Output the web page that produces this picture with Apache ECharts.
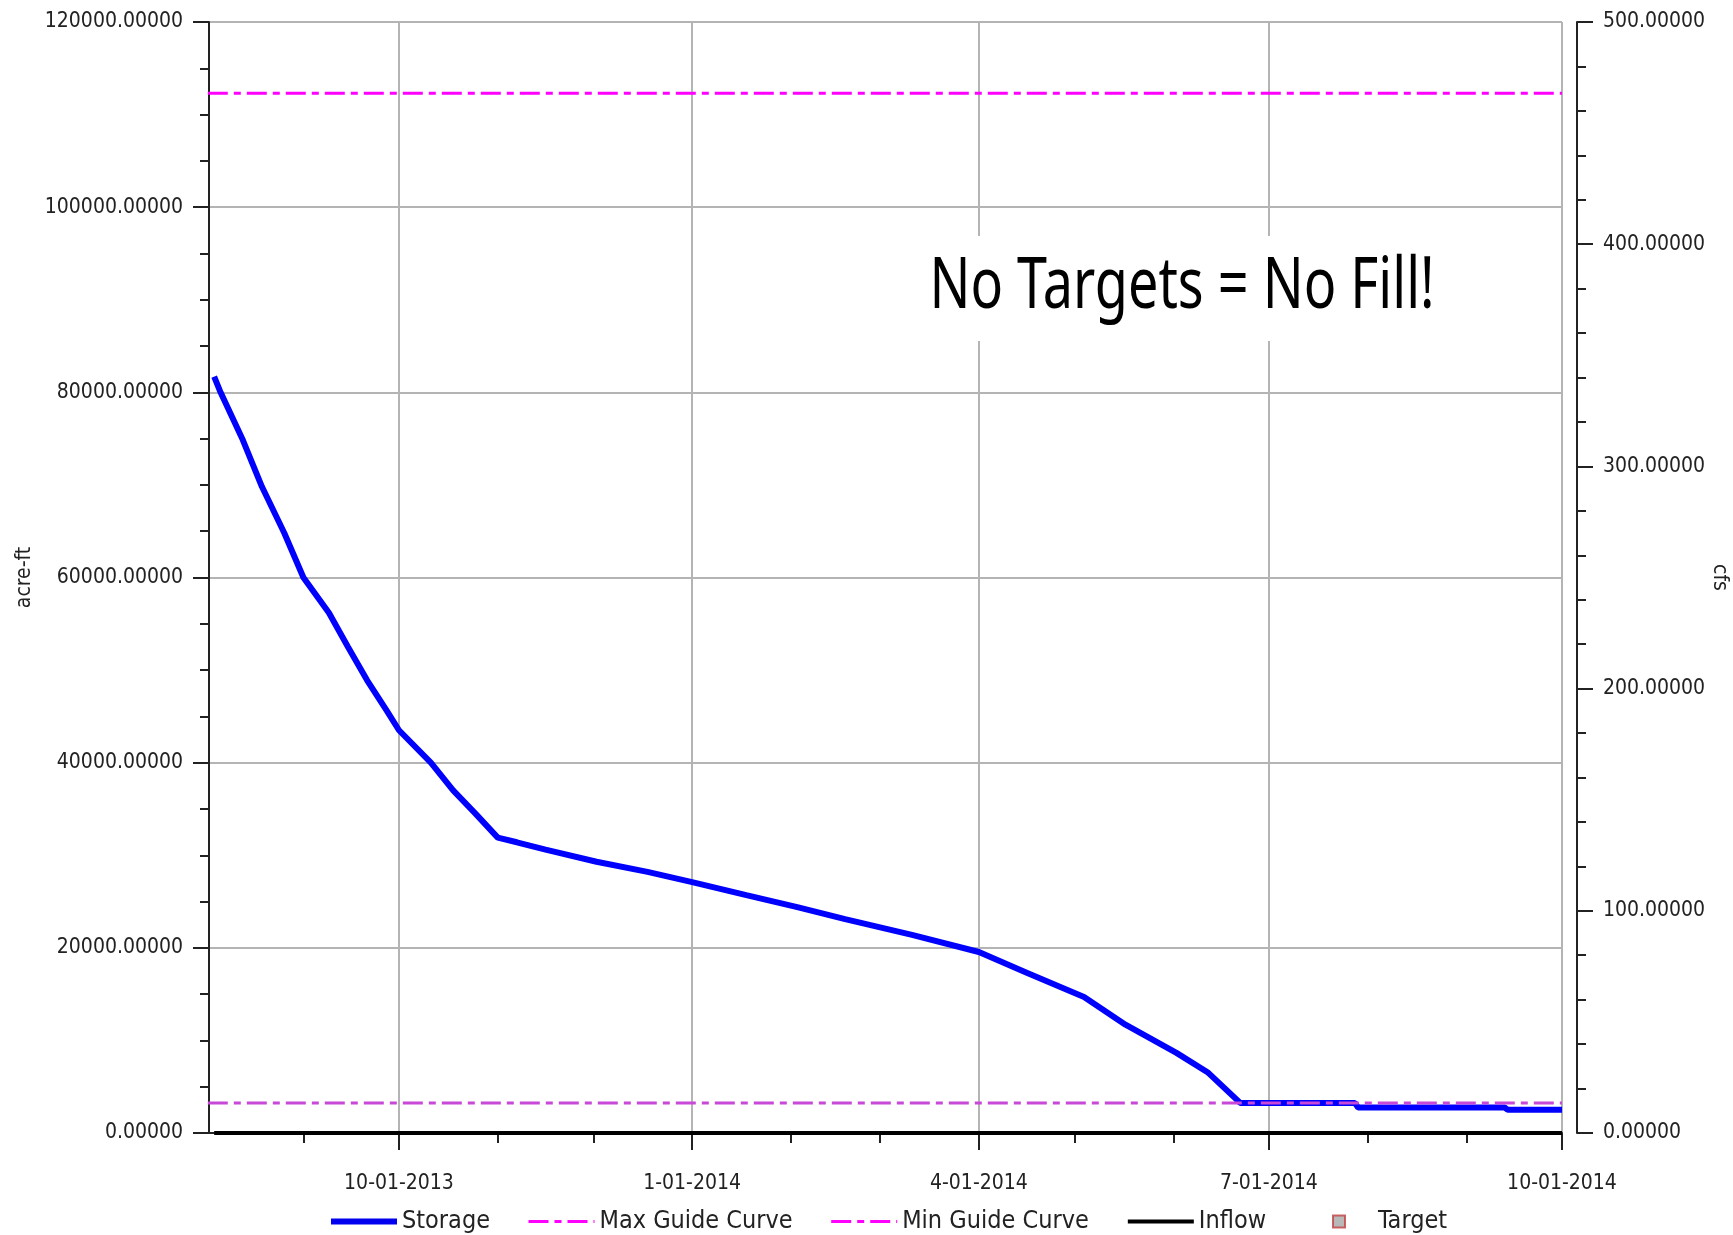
<!DOCTYPE html>
<html>
<head>
<meta charset="utf-8">
<script src="https://cdn.jsdelivr.net/npm/echarts@6.0.0/dist/echarts.min.js"></script>
<style>
  html, body { margin: 0; padding: 0; background: #fff; }
  #chart { width: 1733px; height: 1235px; }
</style>
</head>
<body>
<div id="chart"></div>
<script>
// storage (acre-ft)
var storageDates = ['2013-08-04','2013-08-06','2013-08-13','2013-08-19','2013-08-26','2013-09-01',
  '2013-09-09','2013-09-15','2013-09-21','2013-09-27','2013-10-01','2013-10-11','2013-10-18',
  '2013-10-25','2013-11-01','2013-11-07','2013-11-16','2013-12-02','2013-12-18','2014-01-01',
  '2014-01-18','2014-02-03','2014-02-18','2014-03-11','2014-04-01','2014-04-16','2014-05-04',
  '2014-05-17','2014-06-02','2014-06-12','2014-06-22','2014-07-28','2014-07-29','2014-09-13',
  '2014-09-14','2014-10-01'];
var storageValues = [81700, 80000, 74850, 69800, 64800, 60000,
  56200, 52500, 48900, 45700, 43500, 40000, 37000,
  34500, 31900, 31400, 30600, 29300, 28200, 27100,
  25700, 24400, 23100, 21400, 19550, 17300, 14700,
  11700, 8650, 6500, 3250, 3250, 2750, 2750,
  2500, 2500];

var guideDates = ['2013-08-02', '2014-10-01'];
var maxGuide = [112300, 112300];
var minGuide = [3250, 3250];

var inflowDates = ['2013-08-04', '2014-10-01'];
var inflowValues = [0, 0]; // cfs

var majorTicks = ['2013-10-01', '2014-01-01', '2014-04-01', '2014-07-01', '2014-10-01'];
var minorTicks = ['2013-09-01', '2013-11-01', '2013-12-01', '2014-02-01', '2014-03-01',
  '2014-05-01', '2014-06-01', '2014-08-01', '2014-09-01'];

var leftTicks = [0, 20000, 40000, 60000, 80000, 100000, 120000];
var rightTicks = [0, 100, 200, 300, 400, 500];

function ts(s) {
  var p = s.split('-');
  return new Date(+p[0], +p[1] - 1, +p[2]).getTime();
}
function pairs(dates, vals) {
  return dates.map(function (d, i) { return [ts(d), vals[i]]; });
}

var FONT = "'DejaVu Sans Condensed', 'DejaVu Sans', sans-serif";
var xMin = new Date(2013, 7, 2, 9).getTime();
var xMax = ts('2014-10-01');
var noSymbol = { opacity: 0 };

var chart = echarts.init(document.getElementById('chart'));
chart.setOption({
  animation: false,
  backgroundColor: '#fff',
  grid: { left: 209, right: 171, top: 22, bottom: 102, containLabel: false, outerBoundsMode: 'none' },
  legend: [{
    left: 323, top: 1204,
    itemWidth: 66, itemHeight: 12, itemGap: 37,
    textStyle: { fontFamily: FONT, fontSize: 25, color: '#222' },
    data: [
      { name: 'Storage', itemStyle: noSymbol, lineStyle: { width: 6, color: '#0000ee' } },
      { name: 'Max Guide Curve', itemStyle: noSymbol, lineStyle: { width: 3 } },
      { name: 'Min Guide Curve', itemStyle: noSymbol, lineStyle: { width: 3, color: '#ff00ff' } },
      { name: 'Inflow', itemStyle: noSymbol, lineStyle: { width: 4 } }
    ]
  }, {
    left: 1327, top: 1204,
    itemWidth: 12, itemHeight: 12,
    icon: 'rect',
    textStyle: { fontFamily: FONT, fontSize: 25, color: '#222', padding: [0, 0, 0, 28] },
    data: ['Target']
  }],
  xAxis: [{
    type: 'value', min: xMin, max: xMax, offset: 16,
    axisLine: { show: true, lineStyle: { color: '#222', width: 2 } },
    axisTick: { show: true, length: 17, lineStyle: { color: '#222', width: 2 },
      customValues: majorTicks.map(ts) },
    axisLabel: {
      customValues: majorTicks.map(ts),
      fontFamily: FONT, fontSize: 21, color: '#222', margin: 24,
      showMaxLabel: true,
      formatter: function (v) {
        var d = new Date(v);
        return (d.getMonth() + 1) + '-01-' + d.getFullYear();
      }
    },
    splitLine: { show: true, lineStyle: { color: '#b4b4b4', width: 2 } }
  }, {
    type: 'value', min: xMin, max: xMax, offset: 16, position: 'bottom',
    axisLine: { show: false },
    axisTick: { show: true, length: 10, lineStyle: { color: '#222', width: 2 },
      customValues: minorTicks.map(ts) },
    axisLabel: { show: false },
    splitLine: { show: false }
  }],
  yAxis: [{
    type: 'value', min: leftTicks[0], max: leftTicks[leftTicks.length - 1], interval: 20000,
    name: 'acre-ft', nameLocation: 'middle', nameGap: 174, nameRotate: 90, nameMoveOverlap: false,
    nameTextStyle: { fontFamily: FONT, fontSize: 21, color: '#222' },
    axisLine: { show: true, lineStyle: { color: '#222', width: 2 } },
    axisTick: { show: true, length: 16, lineStyle: { color: '#222', width: 2 } },
    minorTick: { show: true, splitNumber: 4, length: 9, lineStyle: { color: '#222', width: 2 } },
    axisLabel: { fontFamily: FONT, fontSize: 21, color: '#222', margin: 26,
      formatter: function (v) { return v.toFixed(5); } },
    splitLine: { show: true, lineStyle: { color: '#b4b4b4', width: 2 } }
  }, {
    type: 'value', position: 'right', offset: 15,
    min: rightTicks[0], max: rightTicks[rightTicks.length - 1], interval: 100,
    name: 'cfs', nameLocation: 'middle', nameGap: 132, nameRotate: -90, nameMoveOverlap: false,
    nameTextStyle: { fontFamily: FONT, fontSize: 21, color: '#222' },
    axisLine: { show: true, lineStyle: { color: '#222', width: 2 } },
    axisTick: { show: true, length: 16, lineStyle: { color: '#222', width: 2 } },
    minorTick: { show: true, splitNumber: 5, length: 9, lineStyle: { color: '#222', width: 2 } },
    axisLabel: { fontFamily: FONT, fontSize: 21, color: '#222', margin: 26,
      formatter: function (v) { return v.toFixed(5); } },
    splitLine: { show: false }
  }],
  graphic: [{
    type: 'rect', z: 50,
    shape: { x: 905, y: 236, width: 555, height: 105 },
    style: { fill: '#fff' }
  }, {
    type: 'text', z: 51, x: 1182, y: 288, scaleX: 0.76,
    style: {
      text: 'No Targets = No Fill!', fill: '#000',
      font: "71px 'Noto Sans', sans-serif",
      align: 'center', verticalAlign: 'middle',
      textAlign: 'center', textVerticalAlign: 'middle'
    }
  }],
  series: [{
    name: 'Storage', type: 'line', symbol: 'none', xAxisIndex: 0, yAxisIndex: 0,
    lineStyle: { color: '#0000ff', width: 6 }, itemStyle: { color: '#0000ff' },
    data: pairs(storageDates, storageValues)
  }, {
    name: 'Max Guide Curve', type: 'line', symbol: 'none', yAxisIndex: 0,
    lineStyle: { color: '#ff00ff', width: 3, type: [20, 6, 7, 6] }, itemStyle: { color: '#ff00ff' },
    data: pairs(guideDates, maxGuide)
  }, {
    name: 'Min Guide Curve', type: 'line', symbol: 'none', yAxisIndex: 0,
    lineStyle: { color: '#c848d8', width: 3, type: [20, 6, 7, 6] }, itemStyle: { color: '#ff00ff' },
    data: pairs(guideDates, minGuide)
  }, {
    name: 'Inflow', type: 'line', symbol: 'none', yAxisIndex: 1,
    lineStyle: { color: '#000', width: 4 }, itemStyle: { color: '#000' },
    data: pairs(inflowDates, inflowValues)
  }, {
    name: 'Target', type: 'scatter', yAxisIndex: 0, symbol: 'rect',
    itemStyle: { color: '#a8a8a8', borderColor: '#c04040', borderWidth: 2 },
    data: []
  }]
});
</script>
</body>
</html>
